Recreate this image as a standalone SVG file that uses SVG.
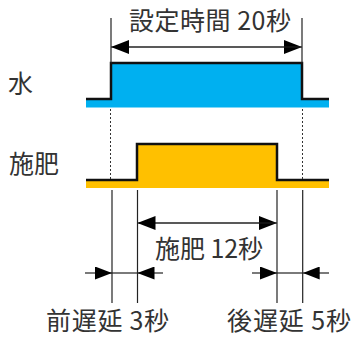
<svg xmlns="http://www.w3.org/2000/svg" width="353" height="338" viewBox="0 0 353 338">
  <style>
    .t { font-family: "Noto Sans CJK JP", "Noto Sans", sans-serif; font-size: 25px; fill: #333333; }
    .step { fill: none; stroke: #111111; stroke-width: 2.5; }
    .dim { stroke: #222222; stroke-width: 1.2; fill: none; }
    .dot { stroke: #333333; stroke-width: 1; stroke-dasharray: 2 2; fill: none; }
    .ah { fill: #000000; }
  </style>
  <defs>
    <marker id="arr" viewBox="0 0 18 14" refX="18" refY="7" markerWidth="18" markerHeight="14" markerUnits="userSpaceOnUse" orient="auto">
      <path d="M0,0 L18,7 L0,14 Z" class="ah"/>
    </marker>
    <marker id="arrs" viewBox="0 0 17 13" refX="17" refY="6.5" markerWidth="17" markerHeight="13" markerUnits="userSpaceOnUse" orient="auto">
      <path d="M0,0 L17,6.5 L0,13 Z" class="ah"/>
    </marker>
  </defs>

  <g id="label-water">
    <text class="t" x="8" y="93">水</text>
  </g>
  <g id="label-fert">
    <text class="t" x="9" y="173">施肥</text>
  </g>

  <g id="water-signal">
    <rect x="111" y="63" width="191" height="37" fill="#00B0F0"/>
    <rect x="86" y="100" width="243" height="7.5" fill="#00B0F0"/>
    <polyline class="step" points="86,99 111,99 111,63 302,63 302,99 329,99"/>
  </g>

  <g id="fert-signal">
    <rect x="137" y="144" width="140" height="36" fill="#FFC000"/>
    <rect x="86" y="180" width="243" height="8" fill="#FFC000"/>
    <polyline class="step" points="86,180 137,180 137,144 277,144 277,180 329,180"/>
  </g>

  <g id="label-settime">
    <text class="t" x="129" y="30" textLength="162" lengthAdjust="spacing">設定時間 20秒</text>
  </g>
  <g id="label-fert12">
    <text class="t" x="155" y="258" textLength="108" lengthAdjust="spacing">施肥 12秒</text>
  </g>
  <g id="label-pre">
    <text class="t" x="46" y="330" textLength="123" lengthAdjust="spacing">前遅延 3秒</text>
  </g>
  <g id="label-post">
    <text class="t" x="227" y="330" textLength="124" lengthAdjust="spacing">後遅延 5秒</text>
  </g>

  <g id="connectors">
    <!-- top extension lines -->
    <line class="dim" x1="111" y1="18" x2="111" y2="63"/>
    <line class="dim" x1="302" y1="18" x2="302" y2="63"/>
    <!-- set time dimension -->
    <line class="dim" x1="113" y1="47" x2="302" y2="47" marker-end="url(#arr)"/>
    <line class="dim" x1="300" y1="47" x2="111" y2="47" marker-end="url(#arr)"/>
    <!-- dotted guide lines -->
    <line class="dot" x1="110.5" y1="109" x2="110.5" y2="179"/>
    <line class="dot" x1="302.5" y1="109" x2="302.5" y2="179"/>
    <!-- lower extension lines -->
    <line class="dim" x1="112" y1="190" x2="112" y2="303"/>
    <line class="dim" x1="137.5" y1="190" x2="137.5" y2="303"/>
    <line class="dim" x1="277" y1="190" x2="277" y2="303"/>
    <line class="dim" x1="302.7" y1="190" x2="302.7" y2="303"/>
    <!-- fertilizer dimension -->
    <line class="dim" x1="139" y1="223" x2="277" y2="223" marker-end="url(#arr)"/>
    <line class="dim" x1="275" y1="223" x2="137.5" y2="223" marker-end="url(#arr)"/>
    <!-- pre delay -->
    <line class="dim" x1="85" y1="273" x2="112" y2="273" marker-end="url(#arrs)"/>
    <line class="dim" x1="112" y1="273" x2="137.5" y2="273"/>
    <line class="dim" x1="163" y1="273" x2="137.5" y2="273" marker-end="url(#arrs)"/>
    <!-- post delay -->
    <line class="dim" x1="252" y1="273" x2="277" y2="273" marker-end="url(#arrs)"/>
    <line class="dim" x1="277" y1="273" x2="302.7" y2="273"/>
    <line class="dim" x1="329" y1="273" x2="302.7" y2="273" marker-end="url(#arrs)"/>
  </g>
</svg>
